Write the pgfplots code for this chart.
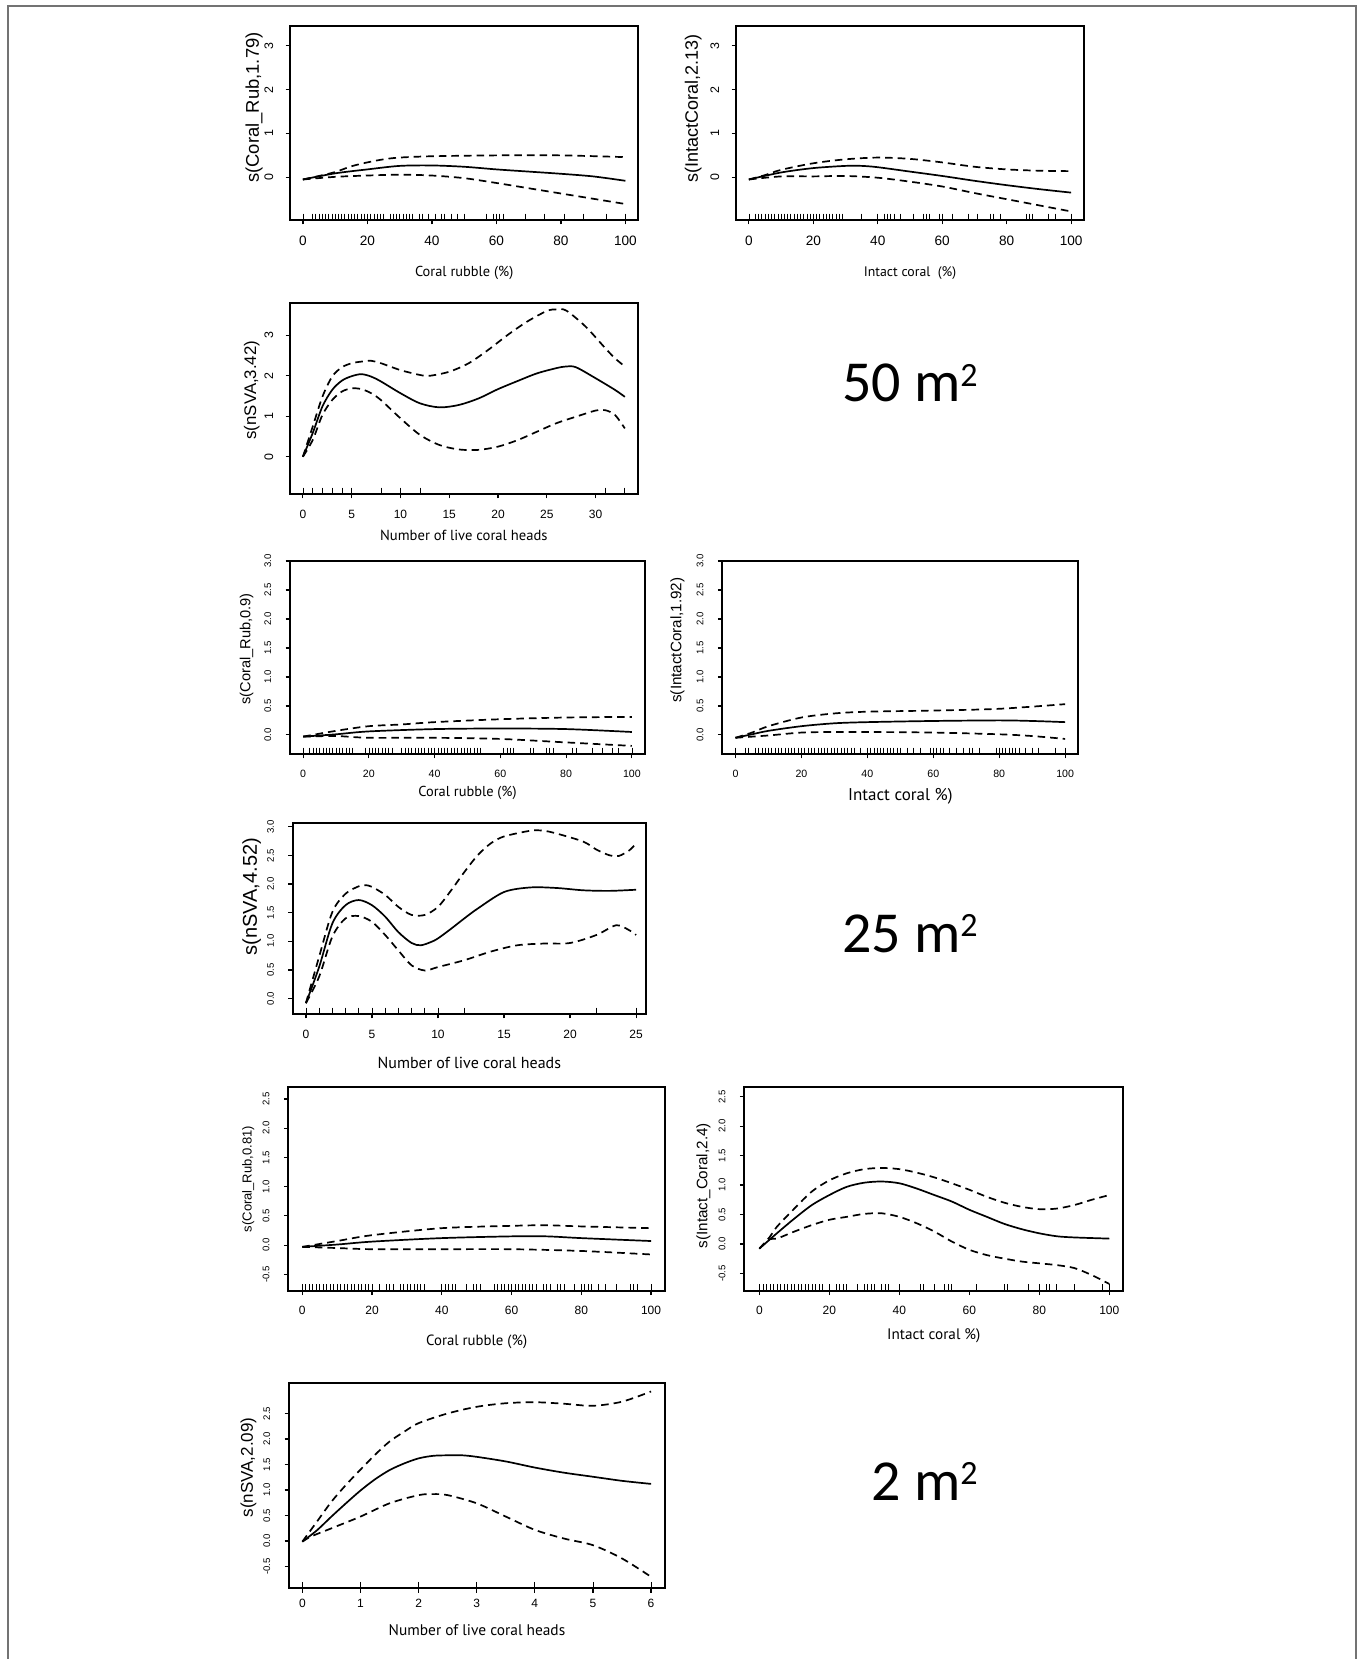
\documentclass[border=0pt]{standalone}
\usepackage{fontspec}
\setmainfont{Liberation Sans}
\newfontfamily\xlabfont{PT Sans}
\newfontfamily\bigfont{Carlito}
\usepackage{pgfplots}
\pgfplotsset{compat=1.18}

% one GAM partial-effect panel, R look
\pgfplotsset{
  gam/.style={
    scale only axis, anchor=south west,
    axis line style={line width=0.9pt},
    tick align=outside, major tick length=2.2pt,
    every tick/.style={black, line width=0.6pt},
    xtick pos=bottom, ytick pos=left,
    /pgf/number format/assume math mode=true,
    xticklabel style={anchor=north, inner sep=0pt, font=\fontsize{6}{7}\selectfont},
    yticklabel style={rotate=90, anchor=south, inner sep=0pt, font=\fontsize{6.2}{7}\selectfont},
    xticklabel shift=5.5pt, yticklabel shift=6pt,
    xlabel style={anchor=center},
    ylabel style={anchor=center},
  },
  dec1/.style={yticklabel shift=7pt, yticklabel style={font=\fontsize{4.8}{5}\selectfont, /pgf/number format/fixed, /pgf/number format/fixed zerofill, /pgf/number format/precision=1}},
  xtf/.style={xticklabel style={font=\fontsize{#1}{7}\selectfont}},
  fit/.style={black, line width=0.85pt, smooth, mark=none},
  ci/.style={black, line width=0.85pt, dash pattern=on 3.8pt off 2.5pt, smooth, mark=none},
  rug/.style={black, only marks, mark=|, mark size=1.6pt, mark options={line width=0.35pt, yshift=1.6pt}},
}
\newcommand\sqm[1]{#1 m\raisebox{7.6pt}{\fontsize{17}{17}\selectfont 2}}

\begin{document}
\begin{tikzpicture}
\path[use as bounding box] (0,0) rectangle (681pt,-829.5pt);
\draw[black!55, line width=1pt] (4pt,-829.5pt) -- (4pt,-3.25pt) -- (677.75pt,-3.25pt) -- (677.75pt,-829.5pt);

% ---------------- 50 m2 ----------------
\begin{axis}[gam, xtf=6.8, at={(145pt,-110pt)}, width=174.15pt, height=97.15pt,
  xmin=-4, xmax=104, ymin=-0.975, ymax=3.46,
  xtick={0,20,...,100}, ytick={0,1,2,3},
  xlabel={Coral rubble (\%)}, ylabel={s(Coral\_Rub,1.79)},
  xlabel style={font=\xlabfont\fontsize{7.2}{8}\selectfont, at={(axis description cs:0.5,-0.274)}},
  ylabel style={font=\fontsize{9.2}{10}\selectfont, at={(axis description cs:-0.103,0.579)}}]
\addplot[fit] coordinates {(0,-0.05)(10,0.09)(20,0.18)(30,0.26)(40,0.27)(50,0.24)(60,0.18)(70,0.13)(80,0.08)(90,0.02)(100,-0.08)};
\addplot[ci] coordinates {(0,-0.05)(5,0.03)(10,0.12)(15,0.25)(20,0.34)(25,0.41)(30,0.45)(40,0.48)(60,0.5)(80,0.5)(100,0.46)};
\addplot[ci] coordinates {(0,-0.05)(10,0.01)(20,0.04)(30,0.06)(40,0.04)(50,-0.02)(60,-0.13)(70,-0.25)(80,-0.37)(90,-0.49)(100,-0.61)};
\addplot[rug] coordinates {(0,-0.975)(3,-0.975)(4,-0.975)(5,-0.975)(6,-0.975)(7,-0.975)(8,-0.975)(9,-0.975)(10,-0.975)(11,-0.975)(12,-0.975)(13,-0.975)(14,-0.975)(15,-0.975)(16,-0.975)(17,-0.975)(18,-0.975)(19,-0.975)(20,-0.975)(21,-0.975)(22,-0.975)(23,-0.975)(24,-0.975)(25,-0.975)(27,-0.975)(28,-0.975)(29,-0.975)(30,-0.975)(31,-0.975)(32,-0.975)(33,-0.975)(34,-0.975)(36,-0.975)(37,-0.975)(39,-0.975)(41,-0.975)(43,-0.975)(44,-0.975)(46,-0.975)(48,-0.975)(50,-0.975)(57,-0.975)(59,-0.975)(60,-0.975)(61,-0.975)(62,-0.975)(69,-0.975)(75,-0.975)(81,-0.975)(87,-0.975)(94,-0.975)(100,-0.975)};
\end{axis}

\begin{axis}[gam, xtf=6.8, at={(368pt,-110pt)}, width=174pt, height=97.15pt,
  xmin=-4, xmax=104, ymin=-0.975, ymax=3.46,
  xtick={0,20,...,100}, ytick={0,1,2,3},
  xlabel={Intact coral \ (\%)}, ylabel={s(IntactCoral,2.13)},
  xlabel style={font=\xlabfont\fontsize{6.9}{8}\selectfont, at={(axis description cs:0.5,-0.274)}},
  ylabel style={font=\fontsize{9}{10}\selectfont, at={(axis description cs:-0.123,0.575)}}]
\addplot[fit] coordinates {(0,-0.05)(10,0.11)(20,0.21)(30,0.26)(35,0.26)(40,0.23)(50,0.13)(60,0.03)(70,-0.08)(80,-0.18)(90,-0.27)(100,-0.35)};
\addplot[ci] coordinates {(0,-0.05)(5,0.05)(10,0.17)(20,0.32)(30,0.41)(40,0.45)(50,0.42)(60,0.34)(70,0.24)(80,0.18)(90,0.15)(100,0.14)};
\addplot[ci] coordinates {(0,-0.05)(10,0.02)(20,0.02)(30,0.03)(40,-0.01)(50,-0.1)(60,-0.21)(70,-0.36)(80,-0.5)(90,-0.64)(100,-0.78)};
\addplot[rug] coordinates {(0,-0.975)(2,-0.975)(3,-0.975)(4,-0.975)(5,-0.975)(6,-0.975)(7,-0.975)(8,-0.975)(9,-0.975)(10,-0.975)(11,-0.975)(12,-0.975)(13,-0.975)(14,-0.975)(15,-0.975)(16,-0.975)(17,-0.975)(18,-0.975)(19,-0.975)(20,-0.975)(21,-0.975)(22,-0.975)(23,-0.975)(24,-0.975)(25,-0.975)(26,-0.975)(27,-0.975)(28,-0.975)(29,-0.975)(35,-0.975)(40,-0.975)(42,-0.975)(43,-0.975)(44,-0.975)(45,-0.975)(47,-0.975)(51,-0.975)(54,-0.975)(55,-0.975)(56,-0.975)(59,-0.975)(60,-0.975)(63,-0.975)(68,-0.975)(71,-0.975)(75,-0.975)(76,-0.975)(78,-0.975)(86,-0.975)(87,-0.975)(88,-0.975)(93,-0.975)(95,-0.975)(100,-0.975)};
\end{axis}

\begin{axis}[gam, at={(145pt,-247pt)}, width=173.85pt, height=95.35pt,
  xmin=-1.32, xmax=34.32, ymin=-0.92, ymax=3.79,
  xtick={0,5,...,30}, ytick={0,1,2,3},
  xlabel={Number of live coral heads}, ylabel={s(nSVA,3.42)},
  xlabel style={font=\xlabfont\fontsize{7.3}{8}\selectfont, at={(axis description cs:0.5,-0.219)}},
  ylabel style={font=\fontsize{8.4}{9}\selectfont, at={(axis description cs:-0.11,0.545)}}]
\addplot[fit] coordinates {(0,0)(1,0.58)(2,1.24)(3,1.65)(4,1.88)(5,1.99)(6,2.04)(7,1.98)(8,1.86)(10,1.57)(12,1.32)(14,1.22)(16,1.28)(18,1.44)(20,1.67)(22,1.87)(24,2.06)(26,2.19)(27,2.23)(28,2.21)(30,1.94)(32,1.65)(33,1.48)};
\addplot[ci] coordinates {(0,0)(1,0.74)(2,1.48)(3,1.98)(4,2.21)(5,2.31)(6,2.35)(7,2.37)(8,2.31)(10,2.14)(12,2.02)(13,2.0)(15,2.1)(17,2.31)(19,2.64)(21,3.01)(23,3.34)(25,3.6)(26,3.64)(27,3.61)(29,3.21)(31,2.68)(32,2.43)(33,2.23)};
\addplot[ci] coordinates {(0,0)(1,0.41)(2,1.03)(3,1.4)(4,1.61)(5,1.69)(6,1.67)(7,1.57)(8,1.4)(10,0.95)(12,0.54)(14,0.29)(16,0.18)(18,0.17)(20,0.25)(22,0.41)(24,0.62)(26,0.83)(28,0.99)(30,1.14)(31,1.15)(32,1.03)(33,0.7)};
\addplot[rug] coordinates {(0,-0.92)(1,-0.92)(2,-0.92)(3,-0.92)(4,-0.92)(5,-0.92)(8,-0.92)(10,-0.92)(12,-0.92)(31,-0.92)(33,-0.92)};
\end{axis}

% ---------------- 25 m2 ----------------
\begin{axis}[gam, dec1, xtf=5.3, at={(145pt,-377pt)}, width=177.5pt, height=96.5pt,
  xmin=-4, xmax=104, ymin=-0.33, ymax=3.0,
  xtick={0,20,...,100}, ytick={0,0.5,...,3},
  xlabel={Coral rubble (\%)}, ylabel={s(Coral\_Rub,0.9)},
  xlabel style={font=\xlabfont\fontsize{7.2}{8}\selectfont, at={(axis description cs:0.5,-0.2)}},
  ylabel style={font=\fontsize{7.3}{8}\selectfont, at={(axis description cs:-0.122,0.544)}}]
\addplot[fit] coordinates {(0,-0.03)(10,0.01)(20,0.06)(40,0.1)(60,0.11)(80,0.1)(100,0.05)};
\addplot[ci] coordinates {(0,-0.03)(10,0.07)(20,0.15)(30,0.18)(40,0.22)(60,0.27)(80,0.3)(100,0.31)};
\addplot[ci] coordinates {(0,-0.03)(10,-0.02)(20,-0.05)(40,-0.05)(60,-0.07)(80,-0.13)(100,-0.19)};
\addplot[rug] coordinates {(0,-0.33)(2,-0.33)(3,-0.33)(4,-0.33)(5,-0.33)(6,-0.33)(7,-0.33)(8,-0.33)(9,-0.33)(10,-0.33)(11,-0.33)(12,-0.33)(13,-0.33)(14,-0.33)(15,-0.33)(19,-0.33)(20,-0.33)(21,-0.33)(22,-0.33)(23,-0.33)(24,-0.33)(25,-0.33)(26,-0.33)(27,-0.33)(30,-0.33)(31,-0.33)(32,-0.33)(33,-0.33)(34,-0.33)(35,-0.33)(36,-0.33)(37,-0.33)(38,-0.33)(39,-0.33)(40,-0.33)(41,-0.33)(42,-0.33)(43,-0.33)(44,-0.33)(45,-0.33)(46,-0.33)(47,-0.33)(48,-0.33)(49,-0.33)(50,-0.33)(51,-0.33)(52,-0.33)(53,-0.33)(54,-0.33)(61,-0.33)(62,-0.33)(63,-0.33)(64,-0.33)(69,-0.33)(70,-0.33)(74,-0.33)(75,-0.33)(76,-0.33)(82,-0.33)(83,-0.33)(88,-0.33)(91,-0.33)(94,-0.33)(96,-0.33)(100,-0.33)};
\end{axis}

\begin{axis}[gam, dec1, xtf=5.3, at={(361.15pt,-377pt)}, width=178pt, height=96.5pt,
  xmin=-4, xmax=104, ymin=-0.33, ymax=3.0,
  xtick={0,20,...,100}, ytick={0,0.5,...,3},
  xlabel={Intact coral \%)}, ylabel={s(IntactCoral,1.92)},
  xlabel style={font=\xlabfont\fontsize{8.5}{9}\selectfont, at={(axis description cs:0.5,-0.221)}},
  ylabel style={font=\fontsize{7.6}{8}\selectfont, at={(axis description cs:-0.126,0.59)}}]
\addplot[fit] coordinates {(0,-0.05)(5,0.01)(10,0.07)(20,0.15)(30,0.2)(40,0.22)(60,0.24)(80,0.25)(90,0.24)(100,0.22)};
\addplot[ci] coordinates {(0,-0.05)(5,0.04)(10,0.15)(20,0.3)(30,0.37)(40,0.4)(60,0.42)(80,0.45)(100,0.53)};
\addplot[ci] coordinates {(0,-0.05)(10,-0.01)(20,0.04)(30,0.05)(40,0.05)(60,0.04)(80,0.01)(90,-0.02)(100,-0.07)};
\addplot[rug] coordinates {(0,-0.33)(3,-0.33)(4,-0.33)(6,-0.33)(7,-0.33)(8,-0.33)(9,-0.33)(10,-0.33)(11,-0.33)(12,-0.33)(13,-0.33)(14,-0.33)(15,-0.33)(16,-0.33)(17,-0.33)(18,-0.33)(19,-0.33)(20,-0.33)(21,-0.33)(22,-0.33)(23,-0.33)(24,-0.33)(25,-0.33)(26,-0.33)(27,-0.33)(28,-0.33)(29,-0.33)(30,-0.33)(31,-0.33)(32,-0.33)(33,-0.33)(34,-0.33)(35,-0.33)(36,-0.33)(38,-0.33)(40,-0.33)(41,-0.33)(42,-0.33)(43,-0.33)(44,-0.33)(45,-0.33)(46,-0.33)(47,-0.33)(48,-0.33)(49,-0.33)(50,-0.33)(52,-0.33)(54,-0.33)(56,-0.33)(59,-0.33)(60,-0.33)(61,-0.33)(62,-0.33)(63,-0.33)(65,-0.33)(67,-0.33)(69,-0.33)(71,-0.33)(72,-0.33)(74,-0.33)(79,-0.33)(80,-0.33)(81,-0.33)(82,-0.33)(83,-0.33)(84,-0.33)(85,-0.33)(86,-0.33)(88,-0.33)(90,-0.33)(92,-0.33)(97,-0.33)(100,-0.33)};
\end{axis}

\begin{axis}[gam, dec1, at={(146.35pt,-507pt)}, width=176.65pt, height=95.65pt,
  xmin=-1, xmax=25.75, ymin=-0.27, ymax=3.07,
  xtick={0,5,...,25}, ytick={0,0.5,...,3},
  xlabel={Number of live coral heads}, ylabel={s(nSVA,4.52)},
  xlabel style={font=\xlabfont\fontsize{8}{9}\selectfont, at={(axis description cs:0.5,-0.255)}},
  ylabel style={font=\fontsize{10}{11}\selectfont, at={(axis description cs:-0.116,0.613)}}]
\addplot[fit] coordinates {(0,-0.08)(1,0.55)(2,1.31)(3,1.63)(4,1.72)(5,1.63)(6,1.43)(7,1.16)(8,0.97)(8.7,0.93)(9.5,0.99)(10,1.05)(11,1.22)(12,1.4)(13,1.57)(15,1.86)(17,1.94)(19,1.93)(21,1.89)(23,1.88)(25,1.9)};
\addplot[ci] coordinates {(0,-0.08)(1,0.73)(2,1.51)(3,1.83)(4,1.96)(4.5,1.98)(5,1.95)(6,1.81)(7,1.6)(8,1.46)(9,1.46)(10,1.6)(11,1.89)(12,2.21)(13,2.5)(14,2.71)(15,2.83)(17,2.93)(18,2.93)(19,2.88)(21,2.74)(22,2.6)(23,2.5)(23.7,2.49)(24.5,2.59)(25,2.71)};
\addplot[ci] coordinates {(0,-0.08)(1,0.38)(2,1.08)(3,1.4)(4,1.44)(5,1.34)(6,1.11)(7,0.84)(8,0.58)(9,0.49)(10,0.55)(12,0.67)(14,0.82)(16,0.93)(18,0.96)(20,0.97)(22,1.11)(23.5,1.28)(24.5,1.19)(25,1.11)};
\addplot[rug] coordinates {(0,-0.27)(1,-0.27)(2,-0.27)(3,-0.27)(4,-0.27)(5,-0.27)(6,-0.27)(7,-0.27)(8,-0.27)(9,-0.27)(10,-0.27)(12,-0.27)(22,-0.27)(25,-0.27)};
\end{axis}

% ---------------- 2 m2 ----------------
\begin{axis}[gam, dec1, at={(144.15pt,-645.35pt)}, width=188.35pt, height=101.7pt,
  xmin=-4, xmax=104, ymin=-0.78, ymax=2.7,
  xtick={0,20,...,100}, ytick={-0.5,0,...,2.5},
  xlabel={Coral rubble (\%)}, ylabel={s(Coral\_Rub,0.81)},
  xlabel style={font=\xlabfont\fontsize{7.4}{8}\selectfont, at={(axis description cs:0.5,-0.251)}},
  ylabel style={font=\fontsize{6.5}{7}\selectfont, at={(axis description cs:-0.106,0.549)}}]
\addplot[fit] coordinates {(0,-0.03)(10,0.01)(20,0.06)(40,0.12)(60,0.15)(70,0.15)(80,0.12)(100,0.07)};
\addplot[ci] coordinates {(0,-0.03)(10,0.07)(20,0.17)(40,0.29)(60,0.33)(70,0.34)(80,0.32)(100,0.29)};
\addplot[ci] coordinates {(0,-0.03)(10,-0.05)(20,-0.07)(40,-0.07)(60,-0.07)(80,-0.1)(100,-0.16)};
\addplot[rug] coordinates {(0,-0.78)(1,-0.78)(2,-0.78)(3,-0.78)(4,-0.78)(5,-0.78)(6,-0.78)(7,-0.78)(8,-0.78)(9,-0.78)(10,-0.78)(11,-0.78)(12,-0.78)(13,-0.78)(14,-0.78)(15,-0.78)(16,-0.78)(17,-0.78)(18,-0.78)(19,-0.78)(20,-0.78)(22,-0.78)(24,-0.78)(25,-0.78)(26,-0.78)(28,-0.78)(29,-0.78)(30,-0.78)(31,-0.78)(32,-0.78)(33,-0.78)(34,-0.78)(35,-0.78)(40,-0.78)(41,-0.78)(42,-0.78)(43,-0.78)(44,-0.78)(47,-0.78)(49,-0.78)(50,-0.78)(51,-0.78)(55,-0.78)(56,-0.78)(57,-0.78)(58,-0.78)(59,-0.78)(60,-0.78)(61,-0.78)(62,-0.78)(63,-0.78)(64,-0.78)(65,-0.78)(66,-0.78)(67,-0.78)(69,-0.78)(70,-0.78)(71,-0.78)(73,-0.78)(74,-0.78)(75,-0.78)(78,-0.78)(80,-0.78)(81,-0.78)(82,-0.78)(83,-0.78)(85,-0.78)(87,-0.78)(90,-0.78)(94,-0.78)(95,-0.78)(96,-0.78)(100,-0.78)};
\end{axis}

\begin{axis}[gam, dec1, at={(372.15pt,-645.35pt)}, width=189.5pt, height=101.7pt,
  xmin=-4.3, xmax=104, ymin=-0.795, ymax=2.66,
  xtick={0,20,...,100}, ytick={-0.5,0,...,2.5},
  xlabel={Intact coral \%)}, ylabel={s(Intact\_Coral,2.4)},
  xlabel style={font=\xlabfont\fontsize{7.6}{8}\selectfont, at={(axis description cs:0.5,-0.223)}},
  ylabel style={font=\fontsize{7.6}{8}\selectfont, at={(axis description cs:-0.108,0.516)}}]
\addplot[fit] coordinates {(0,-0.08)(5,0.18)(10,0.43)(15,0.66)(20,0.83)(25,0.97)(30,1.04)(35,1.06)(40,1.03)(45,0.94)(50,0.83)(55,0.72)(60,0.58)(65,0.46)(70,0.34)(75,0.25)(80,0.18)(85,0.13)(90,0.11)(100,0.09)};
\addplot[ci] coordinates {(0,-0.08)(3,0.12)(5,0.29)(10,0.6)(15,0.89)(20,1.08)(25,1.2)(30,1.27)(35,1.29)(40,1.27)(45,1.21)(50,1.13)(55,1.03)(60,0.92)(65,0.8)(70,0.7)(75,0.63)(80,0.59)(85,0.6)(90,0.66)(95,0.75)(100,0.83)};
\addplot[ci] coordinates {(0,-0.08)(3,0.08)(5,0.09)(10,0.21)(15,0.32)(20,0.41)(25,0.46)(30,0.51)(35,0.52)(40,0.46)(45,0.35)(50,0.21)(55,0.04)(60,-0.1)(65,-0.19)(70,-0.25)(75,-0.3)(80,-0.33)(85,-0.36)(90,-0.41)(95,-0.53)(100,-0.68)};
\addplot[rug] coordinates {(0,-0.795)(1,-0.795)(2,-0.795)(3,-0.795)(4,-0.795)(5,-0.795)(6,-0.795)(7,-0.795)(8,-0.795)(9,-0.795)(10,-0.795)(11,-0.795)(12,-0.795)(13,-0.795)(14,-0.795)(15,-0.795)(16,-0.795)(17,-0.795)(18,-0.795)(20,-0.795)(22,-0.795)(23,-0.795)(24,-0.795)(25,-0.795)(28,-0.795)(30,-0.795)(31,-0.795)(32,-0.795)(33,-0.795)(35,-0.795)(36,-0.795)(37,-0.795)(40,-0.795)(46,-0.795)(47,-0.795)(50,-0.795)(53,-0.795)(54,-0.795)(55,-0.795)(62,-0.795)(70,-0.795)(71,-0.795)(77,-0.795)(80,-0.795)(82,-0.795)(83,-0.795)(85,-0.795)(90,-0.795)(98,-0.795)(100,-0.795)};
\end{axis}

\begin{axis}[gam, dec1, at={(144.5pt,-794.15pt)}, width=188pt, height=102.5pt,
  xmin=-0.23, xmax=6.24, ymin=-0.925, ymax=3.09,
  xtick={0,1,...,6}, ytick={-0.5,0,...,2.5}, xticklabel shift=3pt,
  xlabel={Number of live coral heads}, ylabel={s(nSVA,2.09)},
  xlabel style={font=\xlabfont\fontsize{7.7}{9}\selectfont, at={(axis description cs:0.5,-0.203)}},
  ylabel style={font=\fontsize{8.5}{9}\selectfont, at={(axis description cs:-0.108,0.589)}}]
\addplot[fit] coordinates {(0,-0.01)(0.25,0.21)(0.5,0.48)(0.75,0.74)(1,0.99)(1.25,1.21)(1.5,1.39)(1.75,1.52)(2,1.62)(2.25,1.67)(2.5,1.68)(2.75,1.68)(3,1.65)(3.5,1.56)(4,1.44)(4.5,1.34)(5,1.26)(5.5,1.18)(6,1.12)};
\addplot[ci] coordinates {(0,-0.01)(0.25,0.38)(0.5,0.77)(0.75,1.1)(1,1.4)(1.25,1.69)(1.5,1.95)(1.75,2.14)(2,2.31)(2.5,2.5)(3,2.63)(3.5,2.7)(4,2.72)(4.5,2.69)(5,2.65)(5.5,2.73)(6,2.93)};
\addplot[ci] coordinates {(0,-0.01)(0.15,0.09)(0.5,0.25)(1,0.48)(1.5,0.74)(2,0.9)(2.25,0.92)(2.5,0.9)(3,0.74)(3.5,0.48)(4,0.22)(4.5,0.05)(5,-0.08)(5.5,-0.34)(6,-0.7)};
\addplot[rug] coordinates {(0,-0.925)(1,-0.925)(2,-0.925)(3,-0.925)(4,-0.925)(5,-0.925)(6,-0.925)};
\end{axis}

% plot-size labels
\node[anchor=base east, inner sep=0pt, font=\bigfont\fontsize{29}{30}\selectfont] at (489pt,-200.85pt) {\sqm{50}};
\node[anchor=base east, inner sep=0pt, font=\bigfont\fontsize{29}{30}\selectfont] at (489pt,-476pt) {\sqm{25}};
\node[anchor=base east, inner sep=0pt, font=\bigfont\fontsize{29}{30}\selectfont] at (489pt,-750pt) {\sqm{2}};
\end{tikzpicture}
\end{document}
